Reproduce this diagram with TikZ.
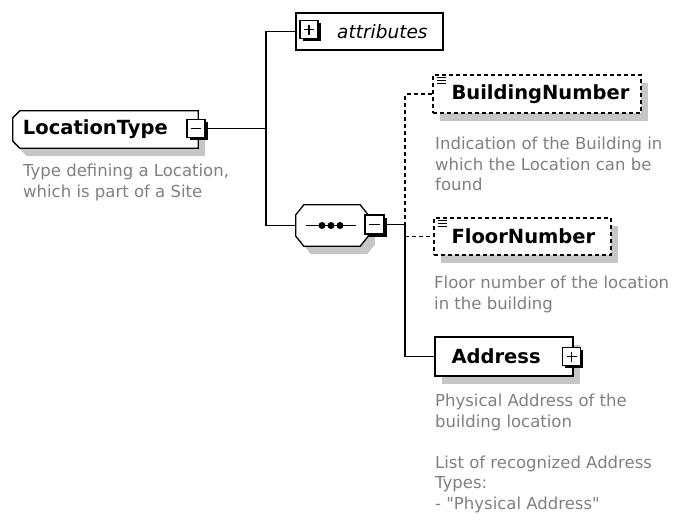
\documentclass[tikz,border=0pt]{standalone}
\usepackage{fontspec}
\setmainfont{DejaVu Sans}[Ligatures=TeXOff]
\usetikzlibrary{positioning}
\usetikzlibrary{calc}
\usetikzlibrary{shadows}

\definecolor{descgray}{RGB}{128,128,128}
\definecolor{shadowgray}{RGB}{198,198,198}

\newcommand\namefont{\fontsize{19.5}{23}\selectfont\bfseries}
\newcommand\attrfont{\fontsize{18.5}{22}\selectfont\itshape}
\newcommand\descfont{\fontsize{16.5}{20.5}\selectfont}

\tikzset{
  conn/.style={line width=1.3pt},
  optline/.style={dash pattern=on 4pt off 3pt},
  elembox/.style={draw, line width=1.3pt, fill=white, inner sep=0pt,
    general shadow={fill=shadowgray, shadow xshift=7pt, shadow yshift=-8pt}},
  optbox/.style={elembox, optline},
  holder/.style={inner sep=0pt},
  togglebox/.style={draw, line width=1.3pt, fill=white, minimum size=18pt, inner sep=0pt,
    general shadow={fill=black, shadow xshift=2.5pt, shadow yshift=-2.5pt},
    path picture={\draw[line width=1.2pt]
      ($(path picture bounding box.west)+(4pt,0)$) --
      ($(path picture bounding box.east)+(-4pt,0)$);}},
  plus/.style={path picture={\draw[line width=1.2pt]
      ($(path picture bounding box.west)+(4pt,0)$) --
      ($(path picture bounding box.east)+(-4pt,0)$)
      ($(path picture bounding box.north)+(0,-4pt)$) --
      ($(path picture bounding box.south)+(0,4pt)$);}},
  elemname/.style={anchor=west, inner sep=0pt, font=\namefont},
  desc/.style={anchor=north west, inner sep=0pt, align=left, text=descgray, font=\descfont}
}

\begin{document}
\begin{tikzpicture}[x=1pt,y=-1pt]
\useasboundingbox (0,0) rectangle (678,523);

\coordinate (trunk) at (266,129.5);
\coordinate (branch) at (405,225.5);

% complex type
\node[holder, minimum width=185pt, minimum height=37pt] (loctype) at (105.5,129.5) {};
\draw[elembox] ([xshift=7pt]loctype.north west) -- (loctype.north east)
  -- (loctype.south east) -- ([xshift=7pt]loctype.south west)
  -- ([yshift=7pt]loctype.south west) -- ([yshift=-7pt]loctype.north west) -- cycle;
\node[elemname] (loctypename) at ([xshift=10pt]loctype.west) {LocationType};
\node[togglebox] (loctypetoggle) at (196,128.5) {};

% attributes
\node[draw, line width=1.3pt, minimum width=147pt, minimum height=37pt] (attrs) at (369.5,31.5) {};
\node[togglebox, plus] (attrstoggle) at (309,29.5) {};
\node[anchor=west, inner sep=0pt, font=\attrfont] (attrsname) at (337,31.5) {attributes};

% sequence
\node[holder, minimum width=72pt, minimum height=41pt] (seq) at (332,225.5) {};
\draw[elembox] ([xshift=8pt]seq.north west) -- ([xshift=-8pt]seq.north east)
  -- ([yshift=-10pt]seq.north east) -- ([yshift=10pt]seq.south east)
  -- ([xshift=-8pt]seq.south east) -- ([xshift=8pt]seq.south west)
  -- ([yshift=10pt]seq.south west) -- ([yshift=-10pt]seq.north west) -- cycle;
\draw[conn] ([xshift=-26pt]seq.center) -- ([xshift=24pt]seq.center);
\foreach \d in {-10,-1,8}
  \fill ([xshift=\d pt]seq.center) circle (3.5pt);
\node[togglebox, minimum size=19pt] (seqtoggle) at (374.5,224.5) {};

% elements
\node[optbox, minimum width=208pt, minimum height=38pt] (bnum) at (537,94) {};
\node[elemname] (bnumname) at ([xshift=19pt]bnum.west) {BuildingNumber};
\node[optbox, minimum width=177pt, minimum height=37pt] (fnum) at (522.5,236.5) {};
\node[elemname] (fnumname) at ([xshift=18pt]fnum.west) {FloorNumber};
\node[elembox, minimum width=138pt, minimum height=39pt] (addr) at (504,356.5) {};
\node[elemname] (addrname) at ([xshift=17pt]addr.west) {Address};
\node[togglebox, plus] (addrtoggle) at (571.5,356.5) {};

% icons
\foreach \n in {bnum,fnum}
  \foreach \dy in {3,6,9}
    \draw[line width=1pt] ([shift={(5pt,-\dy pt)}]\n.north west) -- ++(9pt,0);

% connectors
\draw[conn] (loctypetoggle.east) -- (loctypetoggle.east -| trunk);
\draw[conn] (attrs.west) -| (trunk) |- (seq.west);
\draw[conn] (seqtoggle.east) -- (seqtoggle.east -| branch);
\draw[conn, optline] (branch) |- (bnum.west);
\draw[conn] (branch) |- (addr.west);
\draw[conn, optline] (fnum.west -| branch) -- (fnum.west);

% annotations
\node[desc] (loctypedesc) at (23,164) {Type defining a Location,\\which is part of a Site};
\node[desc] (bnumdesc) at (435,137) {Indication of the Building in\\which the Location can be\\found};
\node[desc] (fnumdesc) at (434,276) {Floor number of the location\\in the building};
\node[desc] (addrdesc) at (435,394) {Physical Address of the\\building location\\[20.5pt]List of recognized Address\\Types:\\- "Physical Address"};

\end{tikzpicture}
\end{document}
